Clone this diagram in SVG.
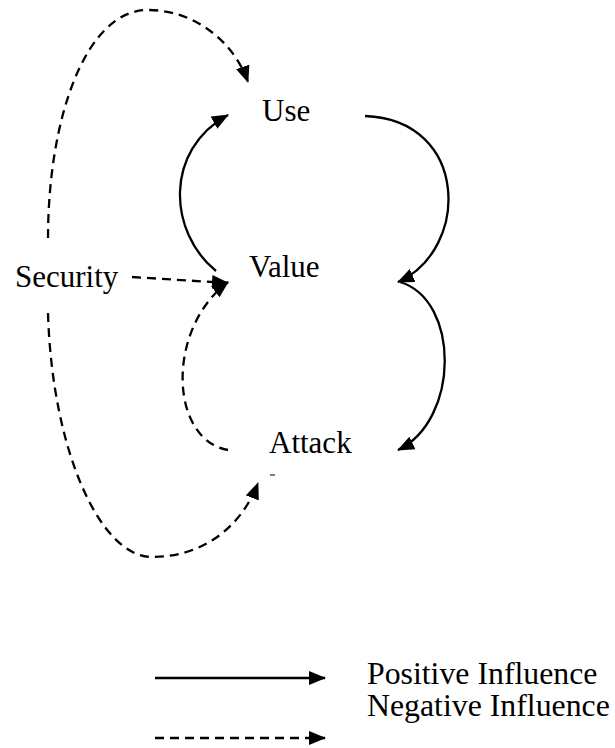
<svg xmlns="http://www.w3.org/2000/svg" width="615" height="748" viewBox="0 0 615 748">
  <style>
    .lbl { font-family: "Liberation Serif", "Times New Roman", serif; font-size: 31px; fill: #000; }
    .pos { fill: none; stroke: #000; stroke-width: 2.3; marker-end: url(#arrow); }
    .neg { fill: none; stroke: #000; stroke-width: 2.3; stroke-dasharray: 9 6; marker-end: url(#arrow); }
  </style>
  <defs>
    <marker id="arrow" markerUnits="userSpaceOnUse" markerWidth="18" markerHeight="15" refX="16" refY="7" orient="auto" viewBox="0 0 18 14">
      <path d="M0,0 L17,7 L0,14 Z" fill="#000"/>
    </marker>
  </defs>

  <rect width="615" height="748" fill="#fff"/>

  <g id="connectors">
    <!-- Security -> Use (over the top) -->
    <path class="neg" d="M48,238 C48,120 85,10 148,10 C195,10 234,42 248,82"/>
    <!-- Value -> Use -->
    <path class="pos" d="M216,271 C168,232 164,150 228,115"/>
    <!-- Use -> Value -->
    <path class="pos" d="M365,116 C470,120 470,250 398,282"/>
    <!-- Value -> Attack -->
    <path class="pos" d="M400,282 C460,300 460,420 398,450"/>
    <!-- Attack -> Value -->
    <path class="neg" d="M228,450 C170,440 165,330 228,282"/>
    <!-- Security -> Value -->
    <path class="neg" d="M132,277 L228,283"/>
    <!-- Security -> Attack (under the bottom) -->
    <path class="neg" d="M48,313 C52,450 100,557 152,557 C200,557 240,530 258,483"/>
    <!-- stray tick below Attack -->
    <line x1="270" y1="475" x2="275" y2="475" stroke="#000" stroke-width="1"/>
  </g>

  <g id="use"><text class="lbl" x="262" y="121">Use</text></g>
  <g id="value"><text class="lbl" x="249" y="277">Value</text></g>
  <g id="security"><text class="lbl" x="15" y="287">Security</text></g>
  <g id="attack"><text class="lbl" x="269" y="453">Attack</text></g>

  <g id="legend">
    <path class="pos" d="M155,678 L325,678"/>
    <path class="neg" d="M155,738 L325,738"/>
    <text class="lbl" x="367" y="684" style="font-size:31.8px">Positive Influence</text>
    <text class="lbl" x="367" y="716" style="font-size:31.8px">Negative Influence</text>
  </g>
</svg>
